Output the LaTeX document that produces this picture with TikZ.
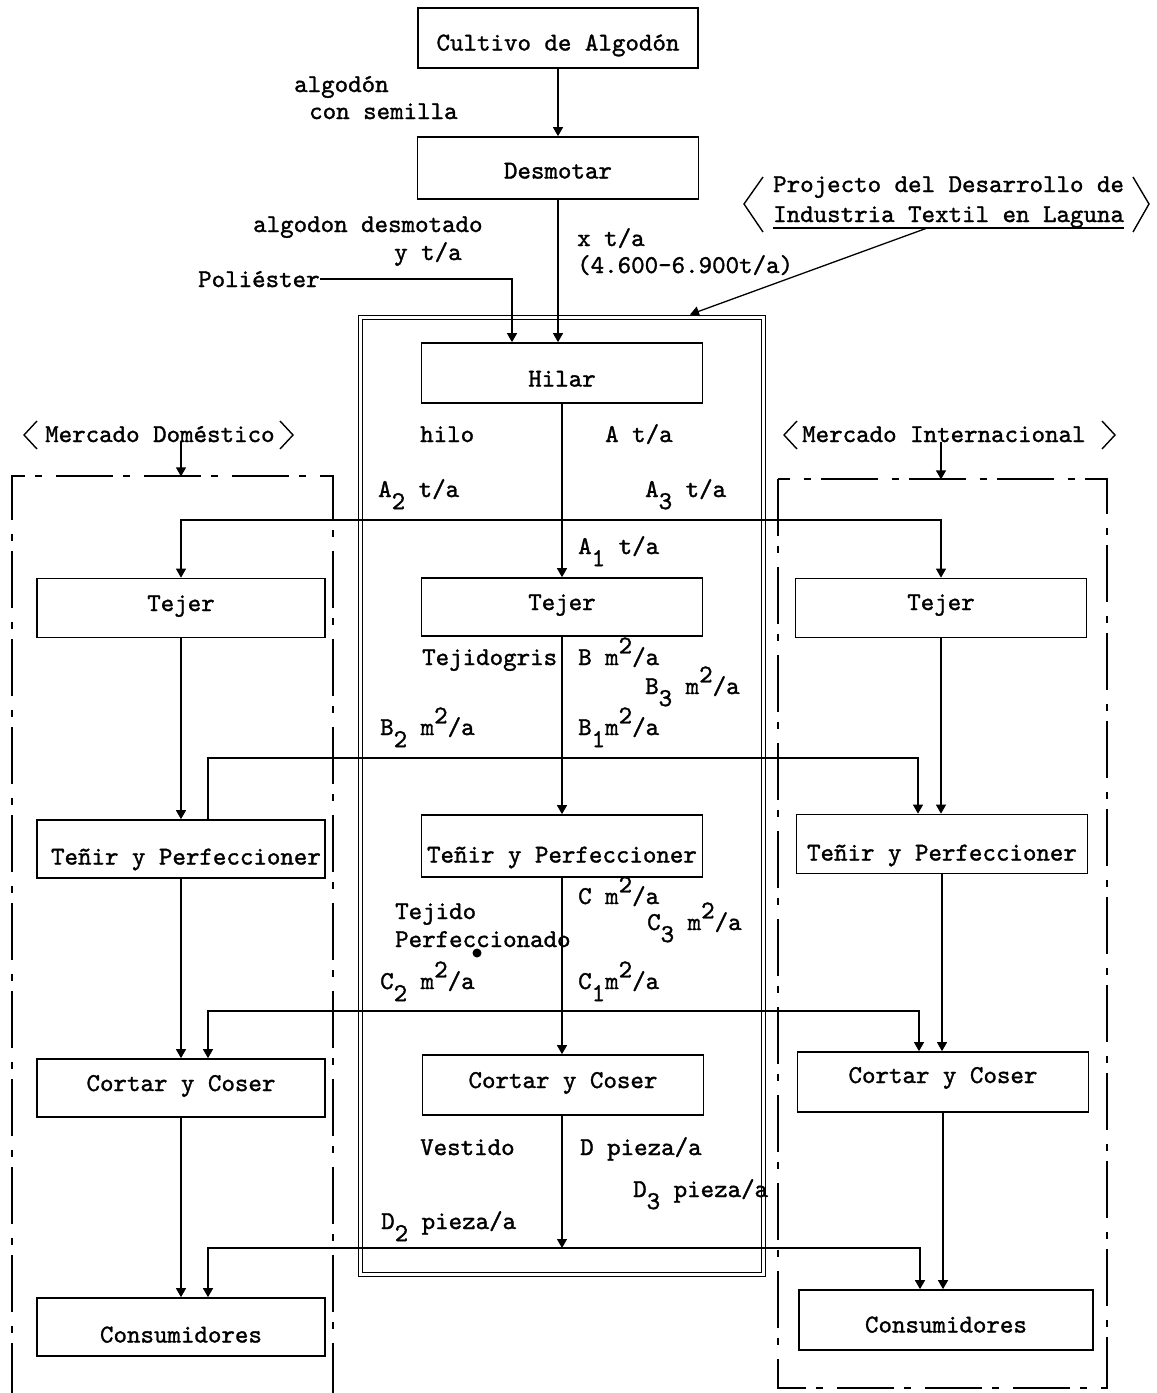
\documentclass[tikz,border=0pt]{standalone}
\usepackage{fontspec}
\usetikzlibrary{arrows.meta,calc}
% slightly heavier typewriter face
\newfontfamily\typer{lmmono10-regular.otf}[FakeBold=1.3]
% typewriter-style sub- and superscripts (full-size digits, shifted)
\newcommand\lo[1]{\raisebox{-0.47em}{#1}}
\newcommand\hi[1]{\raisebox{0.45em}{#1}}

\begin{document}
\begin{tikzpicture}[x=1pt,y=-1pt,
  font=\typer\fontsize{25.7}{30}\selectfont,
  box/.style={draw, line width=1.7pt, inner sep=0pt, text depth=0pt},
  tdrop/.style={text height=#1},
  midbox/.style={box, minimum width=281pt, minimum height=60pt},
  lbox/.style={box, minimum width=288pt, minimum height=59pt},
  rbox/.style={box, minimum width=291pt, minimum height=59pt},
  lbl/.style={anchor=base west, inner sep=0pt},
  link/.style={line width=1.3pt},
  arr/.style={link, -{Triangle[width=10pt,length=9pt]}},
  market/.style={line width=1.9pt, dash pattern=on 57pt off 10pt on 7pt off 14pt},
  bracket/.style={line width=1.4pt},
]
\useasboundingbox (0,0) rectangle (1157,1393);

% project frame (double line)
\node[draw, double, double distance=2.6pt, line width=1.2pt, minimum width=403pt,
      minimum height=957pt, inner sep=0pt] (proj) at (562,796) {};

% market frames (dash-dot)
\draw[market] (12,1400) -- (12,476) -- (333,476) -- (333,1400);
\draw[market] (778,479) rectangle (1107,1388);

% central chain
\node[midbox, minimum width=280pt, tdrop=25pt] (cult) at (558,38) {Cultivo de Algodón};
\node[midbox, minimum height=62pt, tdrop=21pt] (desm) at (558,168) {Desmotar};
\node[midbox, tdrop=27pt] (hilar) at (562,373) {Hilar};
\node[midbox, minimum height=58pt, tdrop=6pt] (tejM) at (562,607) {Tejer};
\node[midbox, minimum height=62pt, tdrop=33pt] (tenM) at (562,846) {Teñir y Perfeccioner};
\node[midbox, tdrop=6pt] (cortM) at (563,1085) {Cortar y Coser};

% domestic market column
\node[lbox, tdrop=6pt] (tejL) at (181,608) {Tejer};
\node[lbox, minimum height=58pt, tdrop=31pt] (tenL) at (181,849) {\hspace*{10pt}Teñir y Perfeccioner};
\node[lbox, minimum height=58pt, tdrop=6pt] (cortL) at (181,1088) {Cortar y Coser};
\node[lbox, minimum height=58pt, tdrop=31pt] (consL) at (181,1327) {Consumidores};

% international market column
\node[rbox, tdrop=4pt] (tejR) at (941,608) {Tejer};
\node[rbox, tdrop=33pt] (tenR) at (942,844) {Teñir y Perfeccioner};
\node[rbox, minimum height=60pt, tdrop=2pt] (cortR) at (943,1082) {Cortar y Coser};
\node[rbox, minimum height=60pt, minimum width=294pt, tdrop=25pt] (consR) at (946,1320) {Consumidores};

% headings
\node[lbl] (proj1) at (773,192) {Projecto del Desarrollo de};
\node[lbl] (proj2) at (773,222) {Industria Textil en Laguna};
\draw[link] (proj2.south west) -- (proj2.south east);
\draw[bracket] (763,177) -- (744,204) -- (763,232);
\draw[bracket] (1133,177) -- (1149,204) -- (1133,232);

\node[lbl] (mdom) at (45,442) {Mercado Doméstico};
\draw[bracket] (37,421) -- (24,435) -- (37,449);
\draw[bracket] (280,421) -- (293,435) -- (280,449);
\node[lbl] (mint) at (802,442) {Mercado Internacional};
\draw[bracket] (797,421) -- (784,435) -- (797,449);
\draw[bracket] (1102,421) -- (1115,435) -- (1102,449);

% flow labels
\node[lbl] (l1) at (294,92) {algodón};
\node[lbl] (l2) at (309,119) {con semilla};
\node[lbl] (l3) at (253,232) {algodon desmotado};
\node[lbl] (l4) at (394,260) {y t/a};
\node[lbl] (l5) at (577,246) {x t/a};
\node[lbl] (l6) at (577,273) {(4.600-6.900t/a)};
\node[lbl] (poly) at (198,287) {Poliéster};

\node[lbl] (a0) at (420,442) {hilo};
\node[lbl] (a1) at (605,442) {A t/a};
\node[lbl] (a2) at (378,497) {A\lo{2} t/a};
\node[lbl] (a3) at (645,497) {A\lo{3} t/a};
\node[lbl] (a4) at (578,554) {A\lo{1} t/a};

\node[lbl] (b0) at (422,665) {Tejidogris};
\node[lbl] (b1) at (578,665) {B m\hi{2}/a};
\node[lbl] (b2) at (645,694) {B\lo{3} m\hi{2}/a};
\node[lbl] (b3) at (380,735) {B\lo{2} m\hi{2}/a};
\node[lbl] (b4) at (578,735) {B\lo{1}m\hi{2}/a};

\node[lbl] (c0) at (395,919) {Tejido};
\node[lbl] (c1) at (395,947) {Perfeccionado};
\fill (477,953) circle[radius=4.5pt];
\node[lbl] (c2) at (578,904) {C m\hi{2}/a};
\node[lbl] (c3) at (647,930) {C\lo{3} m\hi{2}/a};
\node[lbl] (c4) at (380,989) {C\lo{2} m\hi{2}/a};
\node[lbl] (c5) at (578,989) {C\lo{1}m\hi{2}/a};

\node[lbl] (d0) at (420,1155) {Vestido};
\node[lbl] (d1) at (580,1155) {D pieza/a};
\node[lbl] (d2) at (633,1197) {D\lo{3} pieza/a};
\node[lbl] (d3) at (381,1229) {D\lo{2} pieza/a};

% connectors: central chain
\draw[arr] (cult.south) -- (desm.north);
\draw[arr] (desm.south) -- (desm.south |- hilar.north);
\draw[arr] (poly.east) -| ($(hilar.north)+(-50,0)$);
\draw[arr] ($(proj2.south west)+(154,0)$) -- ([xshift=128pt,yshift=2.4pt]proj.north);
\draw[arr] (mdom.south -| tejL.north) -- ($(tejL.north |- mdom.south)+(0,34)$);
\draw[arr] (mint.south -| tejR.north) -- ($(tejR.north |- mint.south)+(0,37)$);

% yarn split
\coordinate (jA) at (562,520);
\draw[arr] (hilar.south) -- (tejM.north);
\draw[arr] (jA) -| (tejL.north);
\draw[arr] (jA) -| (tejR.north);

% grey cloth split
\coordinate (jB) at (562,758);
\draw[arr] (tejM.south) -- (tenM.north);
\draw[arr] (tejL.south) -- (tejL.south |- tenL.north);
\draw[arr] (tejR.south) -- (tejR.south |- tenR.north);
\draw[link] (jB) -| ($(tenL.north)+(27,0)$);
\draw[arr] (jB) -| ($(tenR.north)+(-24,0)$);

% finished cloth split
\coordinate (jC) at (562,1011);
\draw[arr] (tenM.south) -- (tenM.south |- cortM.north);
\draw[arr] (tenL.south) -- (cortL.north);
\draw[arr] (tenR.south) -- (tenR.south |- cortR.north);
\draw[arr] (jC) -| ($(cortL.north)+(27,0)$);
\draw[arr] (jC) -| ($(cortR.north)+(-24,0)$);

% garment split
\coordinate (jD) at (562,1248);
\draw[arr] (cortM.south -| jD) -- (jD);
\draw[arr] (cortL.south) -- (consL.north);
\draw[arr] (cortR.south) -- (cortR.south |- consR.north);
\draw[arr] (jD) -| ($(consL.north)+(27,0)$);
\draw[arr] (jD) -| ($(consR.north)+(-26,0)$);
\end{tikzpicture}
\end{document}
